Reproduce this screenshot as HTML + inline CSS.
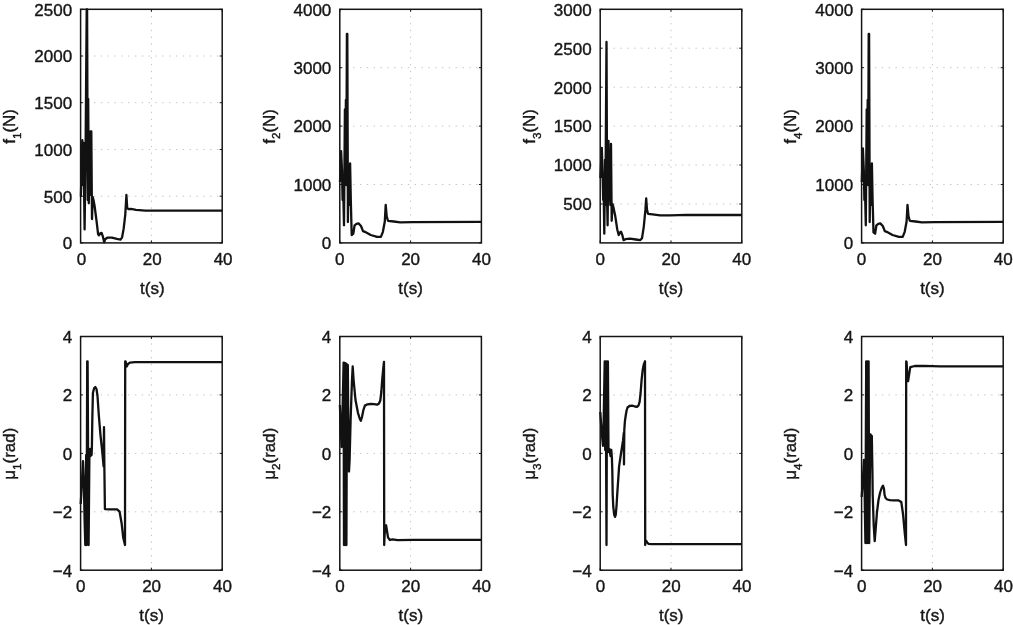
<!DOCTYPE html>
<html lang="en"><head><meta charset="utf-8"><title>Figure</title>
<style>
html,body{margin:0;padding:0;background:#fff;}
body{width:1013px;height:625px;overflow:hidden;}
svg{display:block;}
text{font-family:"Liberation Sans",sans-serif;font-size:17px;fill:#171717;stroke:#171717;stroke-width:0.4px;}
.ax{fill:none;stroke:#141414;stroke-width:1.5;}
.tk{stroke:#141414;stroke-width:1;fill:none;}
.gr{stroke:#c4c4c4;stroke-width:1;stroke-dasharray:1.4 5.43;fill:none;}
.cv{fill:none;stroke:#111111;stroke-width:2.3;stroke-linejoin:round;stroke-linecap:butt;}
.sub{font-size:11.6px;}
</style></head>
<body>
<svg width="1013" height="625" viewBox="0 0 1013 625">
<rect x="0" y="0" width="1013" height="625" fill="#ffffff"/>
<g id="p00">
<line class="gr" x1="151.4" y1="9.3" x2="151.4" y2="241.9"/>
<line class="gr" x1="80.3" y1="196.2" x2="221.2" y2="196.2"/>
<line class="gr" x1="80.3" y1="149.5" x2="221.2" y2="149.5"/>
<line class="gr" x1="80.3" y1="102.7" x2="221.2" y2="102.7"/>
<line class="gr" x1="80.3" y1="56.0" x2="221.2" y2="56.0"/>
<polyline class="cv" points="80.9,196.5 81.5,170.0 82.3,140.2 82.8,185.0 83.2,150.0 83.6,143.0 84.0,185.0 84.6,229.4 85.6,150.0 86.7,9.3 87.1,9.3 87.6,160.0 87.8,200.0 88.2,99.0 88.8,203.3 89.4,150.0 89.8,195.0 90.5,131.3 91.0,180.0 91.3,131.3 92.0,219.1 92.7,197.0 93.5,200.0 94.6,206.0 96.5,220.7 98.1,234.2 99.0,235.4 100.5,233.2 101.6,232.9 102.9,236.7 104.2,242.3 105.1,239.3 107.3,237.7 111.8,237.7 116.9,238.9 120.5,239.6 122.1,237.3 123.7,228.4 125.3,214.3 126.4,195.0 127.2,207.9 128.5,209.2 131.0,208.9 136.0,209.8 145.3,210.7 160.0,210.6 222.2,210.6"/>
<rect class="ax" x="80.6" y="9.3" width="141.6" height="233.6"/>
<path class="tk" d="M80.6 242.9v-2.5M80.6 9.3v2.5M151.4 242.9v-2.5M151.4 9.3v2.5M222.2 242.9v-2.5M222.2 9.3v2.5M80.6 242.9h2.5M222.2 242.9h-2.5M80.6 196.2h2.5M222.2 196.2h-2.5M80.6 149.5h2.5M222.2 149.5h-2.5M80.6 102.7h2.5M222.2 102.7h-2.5M80.6 56.0h2.5M222.2 56.0h-2.5M80.6 9.3h2.5M222.2 9.3h-2.5"/>
<text x="72.1" y="249.2" text-anchor="end">0</text>
<text x="72.1" y="202.5" text-anchor="end">500</text>
<text x="72.1" y="155.8" text-anchor="end">1000</text>
<text x="72.1" y="109.0" text-anchor="end">1500</text>
<text x="72.1" y="62.3" text-anchor="end">2000</text>
<text x="72.1" y="15.6" text-anchor="end">2500</text>
<text x="81.5" y="265.2" text-anchor="middle">0</text>
<text x="152.3" y="265.2" text-anchor="middle">20</text>
<text x="223.1" y="265.2" text-anchor="middle">40</text>
<text x="152.3" y="293.7" text-anchor="middle">t(s)</text>
<text transform="translate(15.3 126.4) rotate(-90)" text-anchor="middle">f<tspan class="sub" dy="5.7">1</tspan><tspan dy="-5.7">(N)</tspan></text>
</g>
<g id="p01">
<line class="gr" x1="410.6" y1="9.3" x2="410.6" y2="241.9"/>
<line class="gr" x1="339.5" y1="184.5" x2="480.4" y2="184.5"/>
<line class="gr" x1="339.5" y1="126.1" x2="480.4" y2="126.1"/>
<line class="gr" x1="339.5" y1="67.7" x2="480.4" y2="67.7"/>
<polyline class="cv" points="340.0,182.0 341.1,151.1 342.0,170.0 342.6,200.0 343.2,190.0 344.0,225.3 344.9,109.4 345.3,160.0 345.9,100.0 346.3,185.0 346.9,33.9 347.3,33.9 347.7,150.0 347.9,222.1 348.5,180.0 349.0,205.0 350.1,163.3 350.8,200.0 351.7,235.0 353.3,233.7 354.6,225.3 356.5,223.8 358.5,223.4 361.0,226.0 363.0,231.1 364.9,231.8 370.7,235.0 377.1,236.9 380.9,236.9 382.9,231.8 384.8,221.5 385.7,204.8 386.7,216.3 388.0,220.8 393.8,221.5 400.2,222.4 413.0,222.1 481.2,221.9"/>
<rect class="ax" x="339.8" y="9.3" width="141.6" height="233.6"/>
<path class="tk" d="M339.8 242.9v-2.5M339.8 9.3v2.5M410.6 242.9v-2.5M410.6 9.3v2.5M481.4 242.9v-2.5M481.4 9.3v2.5M339.8 242.9h2.5M481.4 242.9h-2.5M339.8 184.5h2.5M481.4 184.5h-2.5M339.8 126.1h2.5M481.4 126.1h-2.5M339.8 67.7h2.5M481.4 67.7h-2.5M339.8 9.3h2.5M481.4 9.3h-2.5"/>
<text x="331.3" y="249.2" text-anchor="end">0</text>
<text x="331.3" y="190.8" text-anchor="end">1000</text>
<text x="331.3" y="132.4" text-anchor="end">2000</text>
<text x="331.3" y="74.0" text-anchor="end">3000</text>
<text x="331.3" y="15.6" text-anchor="end">4000</text>
<text x="339.8" y="265.2" text-anchor="middle">0</text>
<text x="410.6" y="265.2" text-anchor="middle">20</text>
<text x="481.4" y="265.2" text-anchor="middle">40</text>
<text x="410.6" y="293.7" text-anchor="middle">t(s)</text>
<text transform="translate(274.5 126.4) rotate(-90)" text-anchor="middle">f<tspan class="sub" dy="5.7">2</tspan><tspan dy="-5.7">(N)</tspan></text>
</g>
<g id="p02">
<line class="gr" x1="671.0" y1="9.3" x2="671.0" y2="241.9"/>
<line class="gr" x1="599.9" y1="204.0" x2="740.8" y2="204.0"/>
<line class="gr" x1="599.9" y1="165.0" x2="740.8" y2="165.0"/>
<line class="gr" x1="599.9" y1="126.1" x2="740.8" y2="126.1"/>
<line class="gr" x1="599.9" y1="87.2" x2="740.8" y2="87.2"/>
<line class="gr" x1="599.9" y1="48.2" x2="740.8" y2="48.2"/>
<polyline class="cv" points="600.4,178.0 601.8,147.9 602.6,175.0 603.2,200.0 603.6,185.0 604.3,233.7 605.0,160.0 605.4,205.0 606.5,42.0 607.1,200.0 607.6,225.3 608.5,140.8 609.2,200.0 609.8,165.0 610.3,205.0 611.0,144.0 611.7,220.8 612.5,204.0 613.3,206.7 615.3,216.3 617.2,229.2 618.7,235.0 620.0,232.5 621.0,231.8 622.3,235.0 623.6,240.1 625.5,239.2 630.0,238.6 635.8,239.5 640.3,240.1 642.0,238.2 643.8,226.6 645.4,209.9 646.2,198.4 647.0,209.9 648.0,213.8 652.5,214.4 660.2,215.4 670.5,215.4 685.9,214.9 742.0,215.0"/>
<rect class="ax" x="600.2" y="9.3" width="141.6" height="233.6"/>
<path class="tk" d="M600.2 242.9v-2.5M600.2 9.3v2.5M671.0 242.9v-2.5M671.0 9.3v2.5M741.8 242.9v-2.5M741.8 9.3v2.5M600.2 204.0h2.5M741.8 204.0h-2.5M600.2 165.0h2.5M741.8 165.0h-2.5M600.2 126.1h2.5M741.8 126.1h-2.5M600.2 87.2h2.5M741.8 87.2h-2.5M600.2 48.2h2.5M741.8 48.2h-2.5M600.2 9.3h2.5M741.8 9.3h-2.5"/>
<text x="591.7" y="210.3" text-anchor="end">500</text>
<text x="591.7" y="171.3" text-anchor="end">1000</text>
<text x="591.7" y="132.4" text-anchor="end">1500</text>
<text x="591.7" y="93.5" text-anchor="end">2000</text>
<text x="591.7" y="54.5" text-anchor="end">2500</text>
<text x="591.7" y="15.6" text-anchor="end">3000</text>
<text x="600.2" y="265.2" text-anchor="middle">0</text>
<text x="671.0" y="265.2" text-anchor="middle">20</text>
<text x="741.8" y="265.2" text-anchor="middle">40</text>
<text x="671.0" y="293.7" text-anchor="middle">t(s)</text>
<text transform="translate(534.9 126.4) rotate(-90)" text-anchor="middle">f<tspan class="sub" dy="5.7">3</tspan><tspan dy="-5.7">(N)</tspan></text>
</g>
<g id="p03">
<line class="gr" x1="932.4" y1="9.3" x2="932.4" y2="241.9"/>
<line class="gr" x1="861.3" y1="184.5" x2="1002.2" y2="184.5"/>
<line class="gr" x1="861.3" y1="126.1" x2="1002.2" y2="126.1"/>
<line class="gr" x1="861.3" y1="67.7" x2="1002.2" y2="67.7"/>
<polyline class="cv" points="861.8,182.0 862.9,148.5 863.8,170.0 864.4,200.0 865.0,190.0 865.8,225.3 866.7,109.4 867.1,160.0 867.7,100.0 868.1,185.0 868.7,33.9 869.1,33.9 869.5,150.0 869.7,222.1 870.3,180.0 870.8,205.0 871.9,163.3 872.6,200.0 873.5,232.4 875.1,233.7 876.4,225.3 878.3,223.8 880.3,223.4 882.8,226.0 884.8,231.1 886.7,231.8 892.5,235.0 898.9,236.9 902.7,236.9 904.7,231.8 906.6,221.5 907.5,204.8 908.5,216.3 909.8,220.8 915.6,221.5 922.0,222.4 934.8,222.1 1003.0,221.9"/>
<rect class="ax" x="861.6" y="9.3" width="141.6" height="233.6"/>
<path class="tk" d="M861.6 242.9v-2.5M861.6 9.3v2.5M932.4 242.9v-2.5M932.4 9.3v2.5M1003.2 242.9v-2.5M1003.2 9.3v2.5M861.6 242.9h2.5M1003.2 242.9h-2.5M861.6 184.5h2.5M1003.2 184.5h-2.5M861.6 126.1h2.5M1003.2 126.1h-2.5M861.6 67.7h2.5M1003.2 67.7h-2.5M861.6 9.3h2.5M1003.2 9.3h-2.5"/>
<text x="853.1" y="249.2" text-anchor="end">0</text>
<text x="853.1" y="190.8" text-anchor="end">1000</text>
<text x="853.1" y="132.4" text-anchor="end">2000</text>
<text x="853.1" y="74.0" text-anchor="end">3000</text>
<text x="853.1" y="15.6" text-anchor="end">4000</text>
<text x="861.6" y="265.2" text-anchor="middle">0</text>
<text x="932.4" y="265.2" text-anchor="middle">20</text>
<text x="1003.2" y="265.2" text-anchor="middle">40</text>
<text x="932.4" y="293.7" text-anchor="middle">t(s)</text>
<text transform="translate(796.3 126.4) rotate(-90)" text-anchor="middle">f<tspan class="sub" dy="5.7">4</tspan><tspan dy="-5.7">(N)</tspan></text>
</g>
<g id="p10">
<line class="gr" x1="151.4" y1="336.5" x2="151.4" y2="569.2"/>
<line class="gr" x1="80.3" y1="511.8" x2="221.2" y2="511.8"/>
<line class="gr" x1="80.3" y1="453.4" x2="221.2" y2="453.4"/>
<line class="gr" x1="80.3" y1="394.9" x2="221.2" y2="394.9"/>
<polyline class="cv" points="80.7,504.0 81.5,490.0 83.0,461.2 83.8,480.0 84.6,520.0 85.3,545.0 86.2,455.0 86.6,545.0 87.2,361.3 87.6,361.3 88.6,545.0 89.0,500.0 89.4,455.0 90.0,449.0 90.6,456.0 91.2,449.0 91.6,455.0 91.9,447.0 92.3,420.0 92.9,393.0 93.4,391.0 94.2,388.0 95.3,387.0 96.5,389.0 97.5,396.0 98.8,415.0 100.4,434.3 102.3,452.2 103.6,466.3 104.0,427.2 104.4,470.0 104.9,509.1 110.0,509.3 117.1,509.4 119.6,511.7 121.6,523.2 123.2,537.4 125.0,545.0 125.2,361.3 125.6,361.5 126.7,366.5 128.0,364.0 129.9,362.6 135.0,362.2 222.2,362.2"/>
<rect class="ax" x="80.6" y="336.5" width="141.6" height="233.7"/>
<path class="tk" d="M80.6 570.2v-2.5M80.6 336.5v2.5M151.4 570.2v-2.5M151.4 336.5v2.5M222.2 570.2v-2.5M222.2 336.5v2.5M80.6 570.2h2.5M222.2 570.2h-2.5M80.6 511.8h2.5M222.2 511.8h-2.5M80.6 453.4h2.5M222.2 453.4h-2.5M80.6 394.9h2.5M222.2 394.9h-2.5M80.6 336.5h2.5M222.2 336.5h-2.5"/>
<text x="72.1" y="576.5" text-anchor="end">−4</text>
<text x="72.1" y="518.1" text-anchor="end">−2</text>
<text x="72.1" y="459.7" text-anchor="end">0</text>
<text x="72.1" y="401.2" text-anchor="end">2</text>
<text x="72.1" y="342.8" text-anchor="end">4</text>
<text x="80.8" y="592.1" text-anchor="middle">0</text>
<text x="151.6" y="592.1" text-anchor="middle">20</text>
<text x="222.4" y="592.1" text-anchor="middle">40</text>
<text x="151.6" y="620.7" text-anchor="middle">t(s)</text>
<text transform="translate(15.3 453.7) rotate(-90)" text-anchor="middle">μ<tspan class="sub" dy="5.7">1</tspan><tspan dy="-5.7">(rad)</tspan></text>
</g>
<g id="p11">
<line class="gr" x1="410.6" y1="336.5" x2="410.6" y2="569.2"/>
<line class="gr" x1="339.5" y1="511.8" x2="480.4" y2="511.8"/>
<line class="gr" x1="339.5" y1="453.4" x2="480.4" y2="453.4"/>
<line class="gr" x1="339.5" y1="394.9" x2="480.4" y2="394.9"/>
<polyline class="cv" points="339.9,405.0 340.8,430.0 341.6,447.0 342.4,420.0 343.6,362.6 344.0,545.0 344.6,362.8 345.2,545.0 345.8,363.5 346.4,545.0 347.0,364.5 347.4,430.0 347.8,365.0 348.4,440.0 349.0,471.5 349.6,460.0 350.6,420.0 352.0,380.0 352.7,366.5 353.6,380.0 355.5,400.0 358.0,413.0 359.7,418.5 360.8,420.8 362.0,417.0 363.4,410.0 364.9,405.6 367.5,404.3 370.7,404.0 374.0,404.2 377.1,404.7 379.0,403.5 380.3,400.5 381.3,392.0 382.2,379.9 383.3,368.0 384.0,362.0 384.2,545.0 384.6,535.0 385.3,526.0 386.1,525.2 387.0,531.0 388.0,537.4 389.9,540.0 392.5,539.3 397.6,540.2 413.0,539.9 481.2,539.9"/>
<rect class="ax" x="339.8" y="336.5" width="141.6" height="233.7"/>
<path class="tk" d="M339.8 570.2v-2.5M339.8 336.5v2.5M410.6 570.2v-2.5M410.6 336.5v2.5M481.4 570.2v-2.5M481.4 336.5v2.5M339.8 570.2h2.5M481.4 570.2h-2.5M339.8 511.8h2.5M481.4 511.8h-2.5M339.8 453.4h2.5M481.4 453.4h-2.5M339.8 394.9h2.5M481.4 394.9h-2.5M339.8 336.5h2.5M481.4 336.5h-2.5"/>
<text x="331.3" y="576.5" text-anchor="end">−4</text>
<text x="331.3" y="518.1" text-anchor="end">−2</text>
<text x="331.3" y="459.7" text-anchor="end">0</text>
<text x="331.3" y="401.2" text-anchor="end">2</text>
<text x="331.3" y="342.8" text-anchor="end">4</text>
<text x="340.0" y="592.1" text-anchor="middle">0</text>
<text x="410.8" y="592.1" text-anchor="middle">20</text>
<text x="481.6" y="592.1" text-anchor="middle">40</text>
<text x="410.8" y="620.7" text-anchor="middle">t(s)</text>
<text transform="translate(274.5 453.7) rotate(-90)" text-anchor="middle">μ<tspan class="sub" dy="5.7">2</tspan><tspan dy="-5.7">(rad)</tspan></text>
</g>
<g id="p12">
<line class="gr" x1="671.0" y1="336.5" x2="671.0" y2="569.2"/>
<line class="gr" x1="599.9" y1="511.8" x2="740.8" y2="511.8"/>
<line class="gr" x1="599.9" y1="453.4" x2="740.8" y2="453.4"/>
<line class="gr" x1="599.9" y1="394.9" x2="740.8" y2="394.9"/>
<polyline class="cv" points="600.3,412.0 601.5,430.0 603.0,445.8 603.7,420.0 604.7,361.3 605.2,450.0 605.7,361.3 606.5,545.0 607.0,361.3 607.5,450.0 607.9,361.5 608.5,452.0 609.5,449.0 610.5,456.0 611.3,450.0 611.9,458.0 612.3,470.0 612.7,494.6 613.3,507.0 614.2,514.5 615.0,516.8 615.8,514.5 616.6,505.0 617.2,494.6 619.1,466.3 621.0,453.5 623.0,440.7 623.8,433.0 624.0,464.4 624.3,430.0 624.9,421.4 625.8,415.0 626.6,410.5 627.5,407.5 629.5,406.0 632.0,405.6 635.0,406.5 637.0,406.9 638.5,405.5 639.6,401.8 640.6,393.0 641.6,379.9 642.7,370.0 643.8,364.5 645.0,361.3 645.2,545.0 645.5,541.5 646.1,540.6 647.2,542.5 648.6,543.8 652.0,544.2 742.0,544.2"/>
<rect class="ax" x="600.2" y="336.5" width="141.6" height="233.7"/>
<path class="tk" d="M600.2 570.2v-2.5M600.2 336.5v2.5M671.0 570.2v-2.5M671.0 336.5v2.5M741.8 570.2v-2.5M741.8 336.5v2.5M600.2 570.2h2.5M741.8 570.2h-2.5M600.2 511.8h2.5M741.8 511.8h-2.5M600.2 453.4h2.5M741.8 453.4h-2.5M600.2 394.9h2.5M741.8 394.9h-2.5M600.2 336.5h2.5M741.8 336.5h-2.5"/>
<text x="591.7" y="576.5" text-anchor="end">−4</text>
<text x="591.7" y="518.1" text-anchor="end">−2</text>
<text x="591.7" y="459.7" text-anchor="end">0</text>
<text x="591.7" y="401.2" text-anchor="end">2</text>
<text x="591.7" y="342.8" text-anchor="end">4</text>
<text x="600.4" y="592.1" text-anchor="middle">0</text>
<text x="671.2" y="592.1" text-anchor="middle">20</text>
<text x="742.0" y="592.1" text-anchor="middle">40</text>
<text x="671.2" y="620.7" text-anchor="middle">t(s)</text>
<text transform="translate(534.9 453.7) rotate(-90)" text-anchor="middle">μ<tspan class="sub" dy="5.7">3</tspan><tspan dy="-5.7">(rad)</tspan></text>
</g>
<g id="p13">
<line class="gr" x1="932.4" y1="336.5" x2="932.4" y2="569.2"/>
<line class="gr" x1="861.3" y1="511.8" x2="1002.2" y2="511.8"/>
<line class="gr" x1="861.3" y1="453.4" x2="1002.2" y2="453.4"/>
<line class="gr" x1="861.3" y1="394.9" x2="1002.2" y2="394.9"/>
<polyline class="cv" points="861.7,497.0 862.8,480.0 864.0,460.0 864.6,490.0 865.4,543.0 866.2,361.3 866.8,543.0 867.4,361.3 868.0,543.0 868.6,361.3 869.2,543.0 869.8,480.0 870.5,434.3 871.2,450.0 871.8,436.0 872.4,470.0 872.7,495.0 873.7,525.0 874.7,541.2 875.6,530.0 877.0,512.0 878.5,500.0 880.0,493.0 881.8,487.5 883.0,485.6 884.0,489.0 884.6,495.0 885.6,498.0 887.2,499.5 890.0,500.2 893.0,500.4 898.7,500.4 901.3,502.0 903.0,514.0 904.8,533.5 906.0,545.0 906.2,361.3 906.6,362.0 907.4,378.0 908.1,381.2 909.0,375.0 910.3,367.1 914.8,366.0 923.8,365.8 940.0,366.3 1003.2,366.4"/>
<rect class="ax" x="861.6" y="336.5" width="141.6" height="233.7"/>
<path class="tk" d="M861.6 570.2v-2.5M861.6 336.5v2.5M932.4 570.2v-2.5M932.4 336.5v2.5M1003.2 570.2v-2.5M1003.2 336.5v2.5M861.6 570.2h2.5M1003.2 570.2h-2.5M861.6 511.8h2.5M1003.2 511.8h-2.5M861.6 453.4h2.5M1003.2 453.4h-2.5M861.6 394.9h2.5M1003.2 394.9h-2.5M861.6 336.5h2.5M1003.2 336.5h-2.5"/>
<text x="853.1" y="576.5" text-anchor="end">−4</text>
<text x="853.1" y="518.1" text-anchor="end">−2</text>
<text x="853.1" y="459.7" text-anchor="end">0</text>
<text x="853.1" y="401.2" text-anchor="end">2</text>
<text x="853.1" y="342.8" text-anchor="end">4</text>
<text x="861.8" y="592.1" text-anchor="middle">0</text>
<text x="932.6" y="592.1" text-anchor="middle">20</text>
<text x="1003.4" y="592.1" text-anchor="middle">40</text>
<text x="932.6" y="620.7" text-anchor="middle">t(s)</text>
<text transform="translate(796.3 453.7) rotate(-90)" text-anchor="middle">μ<tspan class="sub" dy="5.7">4</tspan><tspan dy="-5.7">(rad)</tspan></text>
</g>
</svg>
</body></html>
